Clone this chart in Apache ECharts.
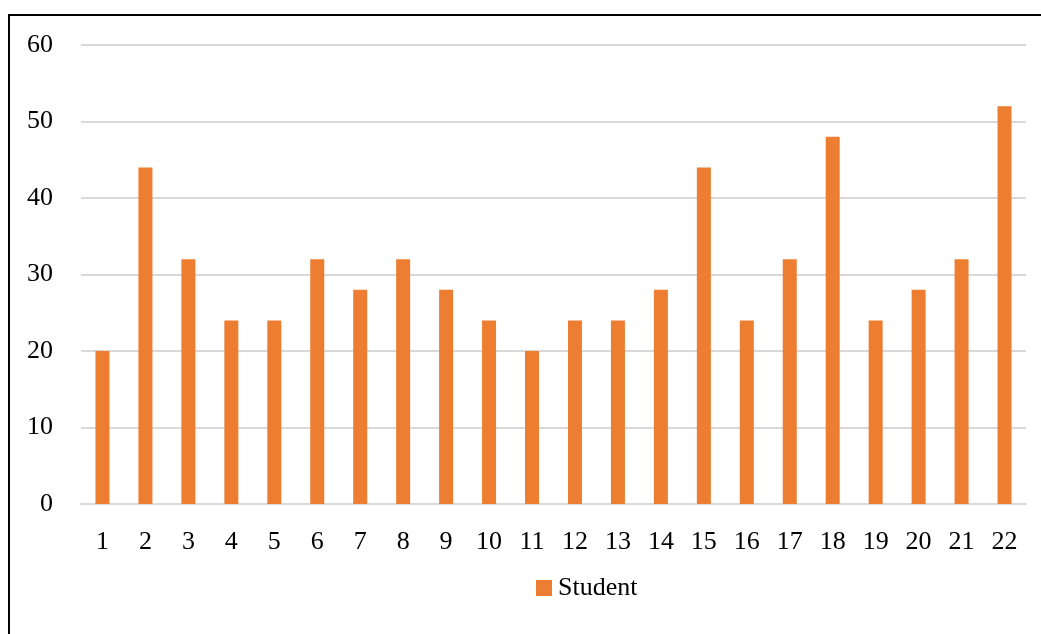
<!DOCTYPE html>
<html>
<head>
<meta charset="utf-8">
<script src="https://cdn.jsdelivr.net/npm/echarts@6/dist/echarts.min.js"></script>
<style>
  html, body { margin: 0; padding: 0; background: #fff; }
  #chart { width: 1041px; height: 634px; }
</style>
</head>
<body>
<div id="chart"></div>
<script>
// Student counts per group
const categories = ['1','2','3','4','5','6','7','8','9','10','11','12','13','14','15','16','17','18','19','20','21','22'];
const studentValues = [20, 44, 32, 24, 24, 32, 28, 32, 28, 24, 20, 24, 24, 28, 44, 24, 32, 48, 24, 28, 32, 52];
const seriesName = 'Student';

const FONT = '"Liberation Serif", "DejaVu Serif", serif';
const FONT_SIZE = 26;
const chart = echarts.init(document.getElementById('chart'), null, { renderer: 'canvas' });

chart.setOption({
  animation: false,
  textStyle: { fontFamily: FONT },
  graphic: [
    { type: 'line', shape: { x1: 9, y1: 15, x2: 9, y2: 634 }, style: { stroke: '#000', lineWidth: 2 } },
    { type: 'line', shape: { x1: 8, y1: 15, x2: 1041, y2: 15 }, style: { stroke: '#000', lineWidth: 2 } }
  ],
  grid: { left: 81, right: 15, top: 45, bottom: 130 },
  legend: {
    data: [seriesName],
    bottom: 28,
    left: 531,
    itemWidth: 16,
    itemHeight: 16,
    itemGap: 5,
    icon: 'rect',
    textStyle: { fontFamily: FONT, fontSize: FONT_SIZE, color: '#000', padding: [0, 0, 0, 1] }
  },
  xAxis: {
    type: 'category',
    data: categories,
    axisLine: { lineStyle: { color: '#d9d9d9', width: 2 } },
    axisTick: { show: false },
    axisLabel: { fontFamily: FONT, fontSize: FONT_SIZE, color: '#000', margin: 25 }
  },
  yAxis: {
    type: 'value',
    min: 0,
    max: 60,
    interval: 10,
    axisLine: { show: false },
    axisTick: { show: false },
    axisLabel: { fontFamily: FONT, fontSize: FONT_SIZE, color: '#000', margin: 28 },
    splitLine: { lineStyle: { color: '#d9d9d9', width: 2 } }
  },
  series: [{
    name: seriesName,
    type: 'bar',
    data: studentValues,
    barWidth: 14,
    itemStyle: { color: '#ED7D31' }
  }]
});
</script>
</body>
</html>
